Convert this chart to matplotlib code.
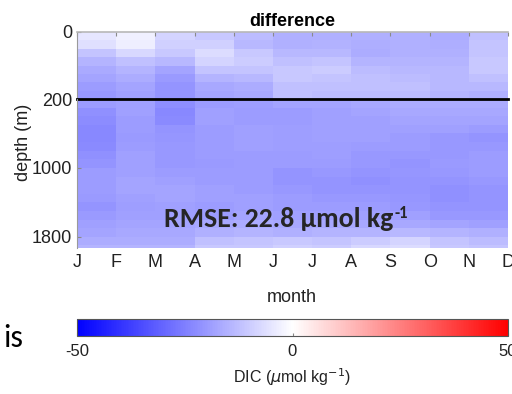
import matplotlib
matplotlib.use("Agg")
import matplotlib.pyplot as plt
import numpy as np

# months (column edges follow MATLAB pcolor: 12 points -> 11 cells)
months = ["J", "F", "M", "A", "M", "J", "J", "A", "S", "O", "N", "D"]
month_pos = np.arange(1, 13)

# upper 0-200 m, 25 m bins
upper_edges = np.arange(0, 225, 25)
upper_diff = [
    [-4.9, -2.9, -8.4, -10.8, -13.1, -15.5, -15.5, -15.5, -15.5, -16.3, -12.4],
    [-6.1, -3.3, -9.2, -9.2, -13.9, -15.5, -15.1, -15.9, -15.5, -15.9, -11.6],
    [-11.6, -7.6, -10.8, -6.9, -10.8, -13.9, -13.9, -16.3, -15.5, -15.5, -11.6],
    [-14.7, -12.4, -13.9, -8.4, -10.0, -12.4, -11.6, -14.7, -14.7, -14.7, -10.8],
    [-16.7, -14.7, -17.8, -11.6, -11.6, -10.8, -10.0, -13.1, -13.9, -13.9, -10.8],
    [-17.8, -16.3, -19.8, -14.7, -13.9, -10.8, -11.6, -12.4, -13.1, -13.9, -12.4],
    [-19.4, -17.8, -21.0, -17.1, -16.3, -12.4, -12.4, -12.4, -12.4, -13.9, -13.9],
    [-20.2, -18.6, -21.0, -17.8, -17.1, -12.4, -13.1, -13.1, -13.1, -14.7, -15.5],
]

# lower 200-2000 m, 100 m bins
lower_edges = np.arange(200, 2100, 100)
lower_diff = [
    [-19.4, -18.6, -22.2, -19.4, -19.0, -17.8, -17.8, -17.1, -16.3, -16.3, -16.3],
    [-21.8, -18.6, -23.3, -18.6, -19.4, -19.4, -18.6, -17.8, -17.1, -17.1, -17.1],
    [-22.5, -19.4, -22.9, -18.6, -19.4, -19.4, -18.6, -18.6, -17.8, -17.8, -17.8],
    [-23.3, -19.4, -21.0, -19.4, -18.6, -19.0, -18.6, -18.6, -18.6, -18.6, -19.4],
    [-23.3, -19.8, -20.6, -19.4, -18.6, -19.0, -18.6, -18.6, -19.4, -20.2, -21.0],
    [-22.9, -19.4, -20.2, -19.4, -18.6, -19.0, -19.0, -19.4, -19.4, -20.2, -20.2],
    [-21.8, -18.6, -20.2, -19.4, -19.4, -19.4, -19.0, -20.2, -20.2, -20.2, -19.4],
    [-21.0, -18.6, -20.2, -19.8, -19.4, -19.4, -19.4, -20.2, -21.0, -19.8, -19.4],
    [-19.4, -18.6, -19.4, -19.4, -19.4, -21.0, -20.2, -21.0, -20.6, -20.2, -19.4],
    [-19.4, -17.8, -18.6, -19.4, -19.4, -21.0, -21.0, -21.8, -21.0, -21.0, -20.2],
    [-19.4, -17.8, -17.8, -18.6, -19.4, -20.2, -21.0, -21.0, -21.0, -21.8, -21.0],
    [-19.8, -18.6, -17.8, -18.6, -18.6, -19.4, -20.2, -20.2, -20.6, -21.8, -21.0],
    [-21.0, -19.0, -18.6, -19.4, -18.6, -19.4, -19.4, -19.4, -20.2, -21.0, -21.0],
    [-19.8, -18.6, -18.6, -19.4, -17.8, -18.6, -18.6, -18.6, -18.6, -20.2, -20.2],
    [-18.6, -17.8, -17.8, -17.1, -16.3, -17.1, -17.1, -17.1, -17.1, -17.8, -18.6],
    [-17.8, -17.1, -17.1, -15.5, -14.7, -15.5, -14.7, -14.7, -13.9, -14.7, -15.5],
    [-16.3, -16.3, -16.3, -12.4, -11.6, -10.8, -11.6, -10.0, -8.4, -11.6, -13.1],
    [-14.7, -14.7, -14.7, -10.8, -10.8, -9.2, -10.0, -7.6, -6.9, -10.8, -11.6],
]

W, H = 512, 394
plt.rcParams["font.family"] = ["Liberation Sans", "DejaVu Sans"]
plt.rcParams["axes.unicode_minus"] = False
slide_font = ["Carlito", "Lato", "DejaVu Sans"]


def fx(px):
    return px / W


def fy(py):
    return 1 - py / H


fig = plt.figure(figsize=(W / 100, H / 100), dpi=100)
ax_top = fig.add_axes([fx(77), fy(99), (508 - 77) / W, (99 - 32) / H])
ax_bot = fig.add_axes([fx(77), fy(248), (508 - 77) / W, (248 - 99) / H])

kw = dict(cmap="bwr", vmin=-50, vmax=50, shading="flat")
mesh = ax_top.pcolormesh(month_pos, upper_edges, np.array(upper_diff), **kw)
ax_bot.pcolormesh(month_pos, lower_edges, np.array(lower_diff), **kw)

ax_top.set_ylim(200, 0)
ax_bot.set_ylim(1930, 200)
for ax in (ax_top, ax_bot):
    ax.set_xlim(1, 12)
    ax.set_xticks(month_pos)
    for s in ("right", "bottom"):
        ax.spines[s].set_visible(False)
    ax.spines["left"].set_color("#9a9a9a")
    ax.spines["top"].set_color("#b8b8b8")
    ax.tick_params(direction="in", color="#8a8a8a", length=3, labelsize=13,
                   labelcolor="#222222")

ax_top.spines["top"].set_linewidth(1.2)
ax_bot.spines["top"].set_visible(False)
ax_top.tick_params(axis="x", top=True, bottom=False, labeltop=False, labelbottom=False)
ax_top.set_yticks([0])
ax_bot.set_yticks([200, 1000, 1800])
ax_bot.tick_params(axis="x", bottom=False, pad=4)
ax_bot.set_xticklabels(months)
ax_bot.axhline(200, color="k", lw=2, clip_on=False)

ax_top.set_title("difference", fontsize=13, fontweight="bold", pad=4)
fig.text(fx(23), fy(142), "depth (m)", rotation=90, ha="center", va="center",
         fontsize=13, color="#222222")
fig.text(fx(292), fy(298), "month", ha="center", va="center", fontsize=13,
         color="#222222")

# RMSE note with a small raised "-1"
rmse = fig.text(fx(164), fy(227), "RMSE: 22.8 µmol kg", ha="left", va="baseline",
                fontsize=20, fontweight="bold", color="#262626", family=slide_font)
fig.canvas.draw()
bb = rmse.get_window_extent(renderer=fig.canvas.get_renderer())
fig.text(bb.x1 / fig.bbox.width + 0.002, fy(218), "-1", ha="left", va="baseline",
         fontsize=12, fontweight="bold", color="#262626", family=slide_font)

fig.text(fx(3), fy(347), "is", ha="left", va="baseline", fontsize=23,
         color="black", family=slide_font)

cax = fig.add_axes([fx(77), fy(336), (508 - 77) / W, (336 - 319) / H])
cb = fig.colorbar(mesh, cax=cax, orientation="horizontal", ticks=[-50, 0, 50])
cb.outline.set_edgecolor("#555555")
cb.outline.set_linewidth(0.8)
cax.tick_params(direction="in", length=2, color="#888888", labelsize=12,
                labelcolor="#222222", pad=6)
cb.set_label("DIC ($\\mu$mol kg$^{-1}$)", fontsize=11.5, color="#222222", labelpad=5)

fig.savefig("out.png", dpi=100)
